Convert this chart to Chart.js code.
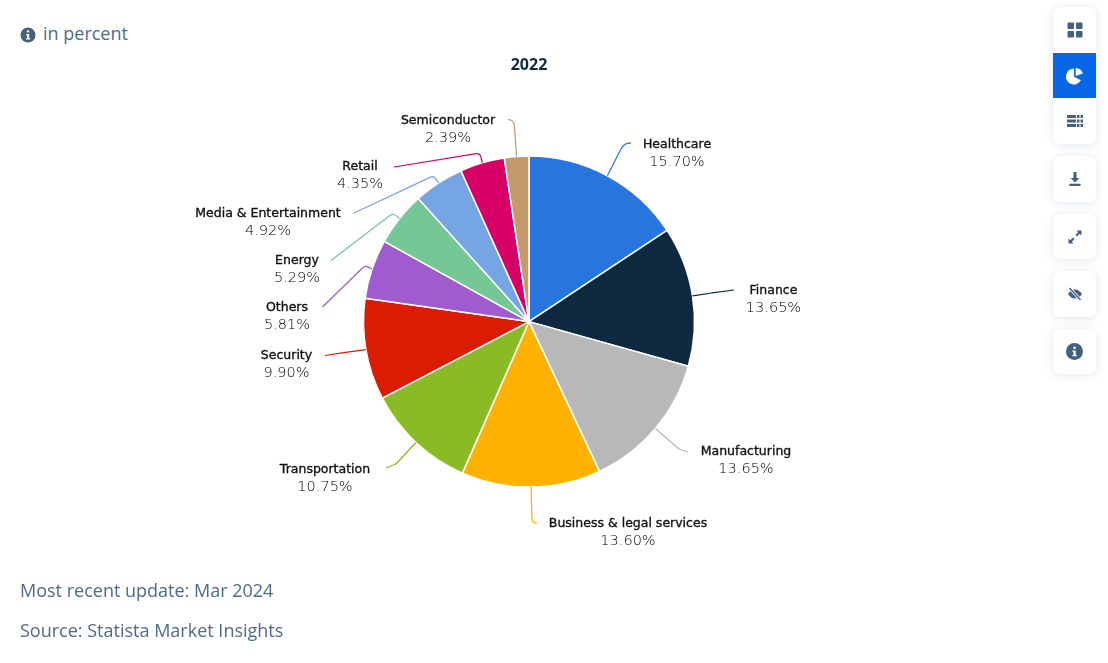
<!DOCTYPE html>
<html>
<head>
<meta charset="utf-8">
<title>2022</title>
<script src="https://cdn.jsdelivr.net/npm/chart.js@4"></script>
<style>
    html, body { margin: 0; padding: 0; background: #fff; width: 1108px; height: 663px; overflow: hidden; }
    body { font-family: "Open Sans", sans-serif; color: #4e6a8a; font-size: 18px; }
    #chart-box { position: absolute; left: 0; top: 0; width: 1058px; height: 663px; }
    .note { position: absolute; left: 20px; line-height: 24px; white-space: nowrap; }
    .info-icon { position: absolute; left: 20px; top: 27px; }
    .card { position: absolute; left: 1053px; width: 43px; background: #fff; border-radius: 7px;
            box-shadow: 0 1px 10px rgba(70, 95, 130, 0.16); overflow: hidden; }
    .btn { width: 43px; height: 45px; display: flex; align-items: center; justify-content: center; }
    .btn.active { background: #0666e5; }
</style>
</head>
<body>
<svg class="info-icon" width="16" height="16" viewBox="0 0 16 16">
    <circle cx="8" cy="8" r="7.5" fill="#44607f"/>
    <rect x="6.9" y="3.2" width="2.4" height="2.4" rx="1" fill="#fff"/>
    <path d="M6 7h3.2v4.2h1v1.3H6v-1.3h1V8.300H6z" fill="#fff"/>
</svg>
<div class="note" style="top:21px;left:43px">in percent</div>
<div id="chart-box"><canvas id="pie-chart"></canvas></div>
<div class="note" style="top:578px">Most recent update: Mar 2024</div>
<div class="note" style="top:618px">Source: Statista Market Insights</div>

<div class="card" style="top:7px">
    <div class="btn" style="height:46px"><svg width="16" height="16" viewBox="0 0 16 16" fill="#44607f"><rect x="0.500" y="0.500" width="6.500" height="6.500" rx="1"/><rect x="9" y="0.500" width="6.500" height="6.500" rx="1"/><rect x="0.500" y="9" width="6.500" height="6.500" rx="1"/><rect x="9" y="9" width="6.500" height="6.500" rx="1"/></svg></div>
    <div class="btn active"><svg width="18" height="18" viewBox="0 0 18 18" fill="#fff"><path d="M8 1.500v8.200l6.900 3.600A8 8 0 1 1 8 1.500z"/><path d="M9.600 1a7.600 7.600 0 0 1 7.200 5.600L9.600 8.900z"/></svg></div>
    <div class="btn" style="height:46px"><svg width="16" height="14" viewBox="0 0 16 14" fill="#44607f"><rect x="0" y="1" width="9" height="3" /><rect x="10" y="1" width="2.500" height="3"/><rect x="13.500" y="1" width="2.500" height="3"/><rect x="0" y="5.500" width="9" height="3"/><rect x="10" y="5.500" width="2.500" height="3"/><rect x="13.500" y="5.500" width="2.500" height="3"/><rect x="0" y="10" width="9" height="3"/><rect x="10" y="10" width="2.500" height="3"/><rect x="13.500" y="10" width="2.500" height="3"/></svg></div>
</div>
<div class="card" style="top:156px">
    <div class="btn" style="height:46px"><svg width="14" height="16" viewBox="0 0 14 16" fill="#44607f"><path d="M5.500 1h3v6h3L7 11.500 2.500 7h3z"/><rect x="1.500" y="12.800" width="11" height="2.200" rx="0.500"/></svg></div>
</div>
<div class="card" style="top:214px">
    <div class="btn"><svg width="16" height="16" viewBox="0 0 16 16" fill="#44607f"><path d="M9.500 1.500h5v5L12.700 4.800 10 7.500 8.500 6l2.700-2.700z"/><path d="M6.500 14.500h-5v-5l1.800 1.700L6 8.500 7.500 10l-2.700 2.700z"/></svg></div>
</div>
<div class="card" style="top:271px">
    <div class="btn" style="height:46px"><svg width="16" height="14" viewBox="0 0 16 14"><path d="M1 7c2-3 4.300-4.500 7-4.500S13 4 15 7c-2 3-4.300 4.500-7 4.500S3 10 1 7z" fill="#44607f"/><path d="M2.500 1l11 12" stroke="#fff" stroke-width="3"/><path d="M2.500 1l11 12" stroke="#44607f" stroke-width="1.400"/></svg></div>
</div>
<div class="card" style="top:329px">
    <div class="btn"><svg width="17" height="17" viewBox="0 0 16 16"><circle cx="8" cy="8" r="8" fill="#44607f"/><rect x="6.900" y="3.200" width="2.400" height="2.400" rx="1" fill="#fff"/><path d="M6 7h3.200v4.200h1v1.300H6v-1.300h1V8.300H6z" fill="#fff"/></svg></div>
</div>

<script>
// --- Datos ---
const categories = ['Healthcare', 'Finance', 'Manufacturing', 'Business & legal services', 'Transportation', 'Security', 'Others', 'Energy', 'Media & Entertainment', 'Retail', 'Semiconductor'];
const shares = [15.70, 13.65, 13.65, 13.60, 10.75, 9.90, 5.81, 5.29, 4.92, 4.35, 2.39];
const sliceColors = ['#2975de', '#0f2a40', '#b8b8b8', '#ffb300', '#8aba24', '#da1c00', '#a05bcf', '#76c796', '#75a5e3', '#d60066', '#c49a6b'];

// --- Etiquetas: centro del texto, línea del nombre, y puntos del conector ---
const labelX = [677, 773.5, 746, 628, 325, 286.5, 287, 297, 268, 360, 448];
const labelY = [145, 291, 452, 524, 470, 356, 308, 261, 214, 167, 121];
const lineEnd = [[631, 143], [734, 290], [688, 452], [537, 523.500], [386, 468], [325, 355.500], [322.500, 307], [331, 260.500], [353, 213.500], [394, 167], [508, 119.500]];
const lineElbow = [[624, 143], [712, 293], [679, 449], [532, 522], [396, 464], [345.500, 352.300], [365, 265.500], [393, 213], [434, 175.500], [480, 153], [514, 120]];
const lineRound = [10, 6, 8, 5, 9, 6, 5, 5, 5, 4, 6];

const pieLabels = {
    id: 'pieLabels',
    afterDatasetsDraw(chart) {
        const ctx = chart.ctx;
        chart.getDatasetMeta(0).data.forEach((arc, i) => {
            const mid = (arc.startAngle + arc.endAngle) / 2;
            const edgeX = arc.x + Math.cos(mid) * arc.outerRadius;
            const edgeY = arc.y + Math.sin(mid) * arc.outerRadius;

            ctx.save();
            ctx.strokeStyle = sliceColors[i];
            ctx.lineWidth = 1.25;
            ctx.beginPath();
            ctx.moveTo(lineEnd[i][0], lineEnd[i][1]);
            ctx.arcTo(lineElbow[i][0], lineElbow[i][1], edgeX, edgeY, lineRound[i]);
            ctx.lineTo(edgeX, edgeY);
            ctx.stroke();

            ctx.textAlign = 'center';
            ctx.textBaseline = 'middle';
            ctx.fillStyle = '#111';
            ctx.font = '12.500px "DejaVu Sans"';
            ctx.strokeStyle = '#111';
            ctx.lineWidth = 0.35;
            ctx.fillText(categories[i], labelX[i], labelY[i]);
            ctx.strokeText(categories[i], labelX[i], labelY[i]);
            ctx.font = '14.500px "DejaVu Sans Light", "DejaVu Sans"';
            ctx.fillStyle = '#000';
            ctx.fillText(shares[i].toFixed(2) + '%', labelX[i], labelY[i] + 17.5);
            ctx.restore();
        });
    }
};

new Chart(document.getElementById('pie-chart'), {
    type: 'pie',
    data: {
        labels: categories,
        datasets: [{
            data: shares,
            backgroundColor: sliceColors,
            borderColor: '#fff',
            borderWidth: 1.5,
            hoverOffset: 0
        }]
    },
    plugins: [pieLabels],
    options: {
        responsive: true,
        maintainAspectRatio: false,
        animation: false,
        radius: 165.5,
        layout: { padding: { bottom: 95 } },
        plugins: {
            legend: { display: false },
            tooltip: { enabled: false },
            title: {
                display: true,
                text: '2022',
                color: '#0f2a40',
                font: { family: '"Open Sans"', size: 16, weight: 'bold' },
                padding: { top: 56, bottom: 0 }
            }
        }
    }
});
</script>
</body>
</html>
